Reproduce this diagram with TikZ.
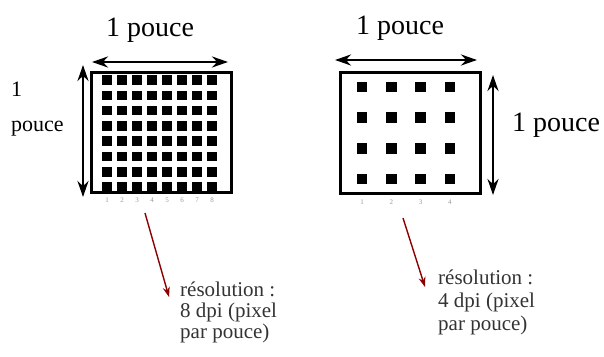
\documentclass[tikz,border=0pt]{standalone}
\usepackage{fontspec}
\setmainfont{Liberation Serif}
\usetikzlibrary{arrows.meta, positioning}

\tikzset{
  pix/.style={fill=black, minimum size=9.5pt, inner sep=0pt},
  frame/.style={draw, line width=3pt},
  dim/.style={line width=2.6pt, {Stealth[length=16pt,width=11pt]}-{Stealth[length=16pt,width=11pt]}},
  tick/.style={font=\fontsize{7}{8}\selectfont, text=black!40, inner sep=0pt},
  pointer/.style={draw=red!55!black, line width=1.4pt, -{Stealth[length=10pt,width=7pt]}},
  biglabel/.style={font=\fontsize{28}{30}\selectfont, inner sep=0pt},
  note/.style={align=left, anchor=north west, text=black!80, inner sep=0pt},
}

\begin{document}
\begin{tikzpicture}[x=1pt, y=-1pt]
\useasboundingbox (0,0) rectangle (604,356);

% 8 dpi
\draw[frame] (91,72) rectangle (231,192);
\foreach \i in {1,...,8} {
  \foreach \j in {1,...,8} {
    \node[pix] (a\i\j) at ({107+15*(\i-1)},{80+15.3*(\j-1)}) {};
  }
  \node[tick] (na\i) at ({107+15*(\i-1)},200) {\i};
}
\coordinate (ah1) at (92,62);
\coordinate (ah2) at (228,62);
\draw[dim] (ah1) -- (ah2);
\node[biglabel] (wa) at (150,30) {1 pouce};
\coordinate (av1) at (83,65);
\coordinate (av2) at (83,197);
\draw[dim] (av1) -- (av2);
\node[align=left, anchor=west, inner sep=0pt, font=\fontsize{22}{35}\selectfont] (ha) at (11,109) {1\\pouce};

% 4 dpi
\draw[frame] (340,72) rectangle (480,193);
\foreach \i in {1,...,4} {
  \foreach \j in {1,...,4} {
    \node[pix, minimum size=10.5pt] (b\i\j) at ({362+29.3*(\i-1)},{87+30.7*(\j-1)}) {};
  }
  \node[tick] (nb\i) at ({362+29.3*(\i-1)},202) {\i};
}
\coordinate (bh1) at (335,60);
\coordinate (bh2) at (477,60);
\draw[dim] (bh1) -- (bh2);
\node[biglabel] (wb) at (400,28) {1 pouce};
\coordinate (bv1) at (493,75);
\coordinate (bv2) at (493,195);
\draw[dim] (bv1) -- (bv2);
\node[biglabel, anchor=west] (hb) at (512,125) {1 pouce};

% resolutions
\node[note, font=\fontsize{21}{21}\selectfont] (res8) at (180,282) {résolution :\\8 dpi (pixel\\par pouce)};
\node[note, font=\fontsize{21}{23}\selectfont] (res4) at (438,270) {résolution :\\4 dpi (pixel\\par pouce)};
\coordinate (pa) at (145,213);
\coordinate (pb) at (403,218);
\draw[pointer] (pa) -- ([xshift=-11pt,yshift=-15pt]res8.north west);
\draw[pointer] (pb) -- ([xshift=-13pt,yshift=-17pt]res4.north west);
\end{tikzpicture}
\end{document}
